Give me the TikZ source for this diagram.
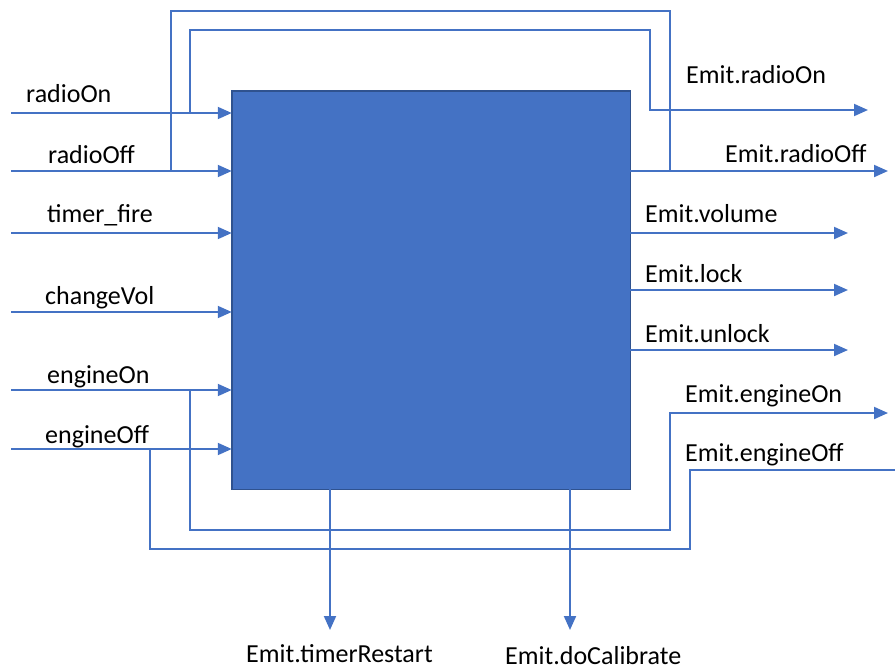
\documentclass[tikz,border=0pt]{standalone}
\usepackage{fontspec}
\setmainfont{Carlito}
\usetikzlibrary{arrows.meta}
\definecolor{lineblue}{HTML}{4472C4}
\definecolor{boxborder}{HTML}{2F528F}
\tikzset{
  ln/.style={draw=lineblue, line width=2pt},
  arr/.style={ln, -{Triangle[length=14pt,width=12pt]}},
  lab/.style={anchor=base west, inner sep=0pt, font=\fontsize{26}{30}\selectfont, text=black},
  blk/.style={draw=boxborder, fill=lineblue, line width=1.5pt, minimum width=398.5pt, minimum height=398.5pt, inner sep=0pt, outer sep=0pt}
}
\begin{document}
\begin{tikzpicture}[x=1pt,y=-1pt]
\useasboundingbox (0,0) rectangle (895,670);
\node[blk] (box) at (431,290) {};
% input start points
\coordinate (iOn) at (11,113);
\coordinate (iOff) at (11,171);
\coordinate (iTim) at (11,233);
\coordinate (iVol) at (11,312);
\coordinate (iEOn) at (11,390);
\coordinate (iEOff) at (11,449);
\foreach \c in {iOn,iOff,iTim,iVol,iEOn,iEOff}{
  \draw[arr] (\c) -- (\c -| box.west);
}
% outputs from box
\coordinate (oOff) at (888,171);
\coordinate (oVol) at (848,233);
\coordinate (oLock) at (848,290);
\coordinate (oUnl) at (848,350);
\foreach \c in {oOff,oVol,oLock,oUnl}{
  \draw[arr] (\c -| box.east) -- (\c);
}
% bypass loops top
\coordinate (bOn) at (190,113);
\coordinate (oOn) at (868,110);
\draw[arr] (bOn) -- (190,30) -- (650,30) -- (650,110) -- (oOn);
\coordinate (bOff) at (171,171);
\coordinate (jOff) at (670,171);
\draw[ln] (bOff) -- (171,11) -- (670,11) -- (jOff);
% bypass loops bottom
\coordinate (bEOn) at (190,390);
\coordinate (oEOn) at (888,413);
\draw[arr] (bEOn) -- (190,530) -- (670,530) -- (670,413) -- (oEOn);
\coordinate (bEOff) at (150,449);
\coordinate (oEOff) at (896,470);
\draw[ln] (bEOff) -- (150,549) -- (690,549) -- (690,470) -- (oEOff);
% bottom outputs
\coordinate (oTR) at (330,630);
\coordinate (oCal) at (570,630);
\draw[arr] (oTR |- box.south) -- (oTR);
\draw[arr] (oCal |- box.south) -- (oCal);
% labels left
\node[lab] (lOn) at (26,102) {radioOn};
\node[lab] (lOff) at (48,163) {radioOff};
\node[lab] (lTim) at (47,222) {timer\_fire};
\node[lab] (lVol) at (45,304) {changeVol};
\node[lab] (lEOn) at (47,383) {engineOn};
\node[lab] (lEOff) at (45,443) {engineOff};
% labels right
\node[lab] (rOn) at (686,83) {Emit.radioOn};
\node[lab] (rOff) at (725,162) {Emit.radioOff};
\node[lab] (rVol) at (645,222) {Emit.volume};
\node[lab] (rLock) at (645,282) {Emit.lock};
\node[lab] (rUnl) at (645,342) {Emit.unlock};
\node[lab] (rEOn) at (685,402) {Emit.engineOn};
\node[lab] (rEOff) at (685,461) {Emit.engineOff};
% labels bottom
\node[lab] (bTR) at (246,662) {Emit.timerRestart};
\node[lab] (bCal) at (505,664) {Emit.doCalibrate};
\end{tikzpicture}
\end{document}
